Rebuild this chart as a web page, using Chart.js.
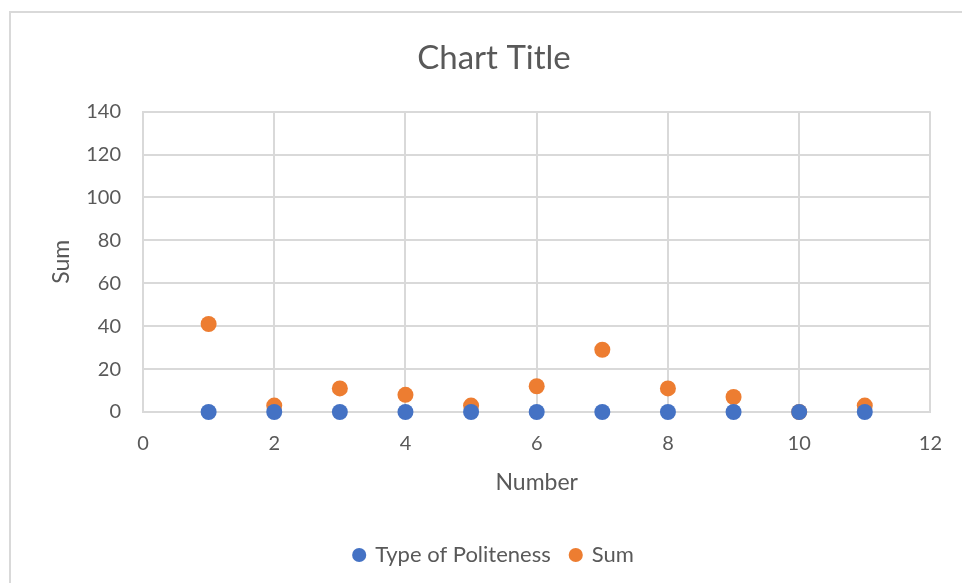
<!DOCTYPE html>
<html>
<head>
<meta charset="utf-8">
<script src="https://cdn.jsdelivr.net/npm/chart.js@4"></script>
<style>
  html, body { margin: 0; padding: 0; background: #fff; }
  #wrap { position: relative; width: 962px; height: 583px; overflow: hidden; }
  #frame { position: absolute; left: 9px; top: 11px; width: 1000px; height: 600px; border: 2px solid #d9d9d9; }
  #chart { position: absolute; left: 0; top: 0; }
</style>
</head>
<body>
<div id="wrap">
  <div id="frame"></div>
  <canvas id="chart" width="962" height="583"></canvas>
</div>
<script>
// values
const numbers = [1, 2, 3, 4, 5, 6, 7, 8, 9, 10, 11];
const politeness = [0, 0, 0, 0, 0, 0, 0, 0, 0, 0, 0];
const sums = [41, 3, 11, 8, 3, 12, 29, 11, 7, 0, 3];

const textColor = '#595959';
const gridColor = '#d9d9d9';
const fontFamily = 'Lato, "Open Sans", sans-serif';

function toPoints(xs, ys) {
    return xs.map((x, i) => ({ x: x, y: ys[i] }));
}

const ctx = document.getElementById('chart').getContext('2d');
const chart = new Chart(ctx, {
    type: 'scatter',
    data: {
        datasets: [{
            label: 'Type of Politeness',
            data: toPoints(numbers, politeness),
            backgroundColor: '#4472C4',
            borderWidth: 0,
            pointRadius: 8,
            pointHoverRadius: 8,
            clip: false
        }, {
            label: 'Sum',
            data: toPoints(numbers, sums),
            backgroundColor: '#ED7D31',
            borderWidth: 0,
            pointRadius: 8,
            pointHoverRadius: 8,
            clip: false
        }]
    },
    options: {
        responsive: false,
        animation: false,
        events: [],
        layout: {
            // the frame runs past the right edge, so title and legend sit right of centre
            padding: { top: 0, left: 54, right: 28, bottom: 7 }
        },
        plugins: {
            title: {
                display: true,
                text: 'Chart Title',
                color: textColor,
                font: { family: fontFamily, size: 33, weight: 'normal' },
                padding: { top: 39, bottom: 33 }
            },
            legend: {
                position: 'bottom',
                labels: {
                    usePointStyle: true,
                    pointStyle: 'circle',
                    boxWidth: 10,
                    boxHeight: 10,
                    padding: 20,
                    color: textColor,
                    font: { family: fontFamily, size: 22 }
                }
            },
            tooltip: { enabled: false }
        },
        scales: {
            x: {
                type: 'linear',
                min: 0,
                max: 12,
                ticks: {
                    stepSize: 2,
                    padding: 20,
                    color: textColor,
                    font: { family: fontFamily, size: 20 }
                },
                grid: { color: gridColor, lineWidth: 2, drawTicks: false },
                border: { color: gridColor, width: 2 },
                title: {
                    display: true,
                    text: 'Number',
                    color: textColor,
                    font: { family: fontFamily, size: 23 },
                    padding: { top: 0, bottom: 28 }
                },
                afterFit: function (scale) { scale.height = 112; }
            },
            y: {
                min: 0,
                max: 140,
                ticks: {
                    stepSize: 20,
                    padding: 22,
                    color: textColor,
                    font: { family: fontFamily, size: 20 }
                },
                grid: { color: gridColor, lineWidth: 2, drawTicks: false },
                border: { color: gridColor, width: 2 },
                title: {
                    display: true,
                    text: 'Sum',
                    color: textColor,
                    font: { family: fontFamily, size: 23 },
                    padding: { top: -6, bottom: 0 }
                },
                afterFit: function (scale) { scale.width = 89; }
            }
        }
    }
});
</script>
</body>
</html>
